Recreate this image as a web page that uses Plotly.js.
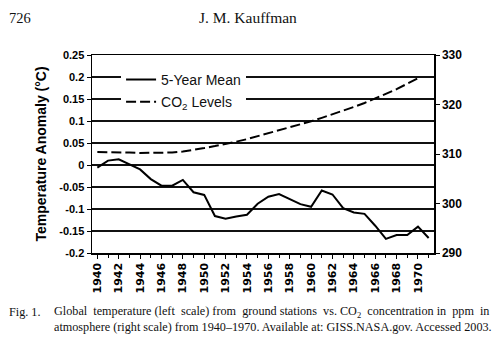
<!DOCTYPE html>
<html>
<head>
<meta charset="utf-8">
<script src="https://cdn.plot.ly/plotly-3.0.1.min.js"></script>
<style>
html,body{margin:0;padding:0;background:#fff;}
#chart{width:500px;height:348px;}
</style>
</head>
<body>
<div id="chart"></div>
<script>
// Temperature anomaly, 5-year mean (left scale, °C)
var tempYears = [1940,1941,1942,1943,1944,1945,1946,1947,1948,1949,1950,1951,1952,1953,1954,1955,
                 1956,1957,1958,1959,1960,1961,1962,1963,1964,1965,1966,1967,1968,1969,1970,1971];
var tempMean = [-0.006,0.010,0.013,0.002,-0.010,-0.032,-0.047,-0.047,-0.034,-0.062,-0.068,-0.116,
                -0.122,-0.117,-0.113,-0.088,-0.072,-0.066,-0.077,-0.089,-0.095,-0.058,-0.067,-0.098,
                -0.108,-0.111,-0.138,-0.168,-0.159,-0.159,-0.140,-0.166];
// CO2 levels (right scale, ppm)
var co2Years = [1940,1941,1942,1943,1944,1945,1946,1947,1948,1949,1950,1951,1952,1953,1954,1955,
                1956,1957,1958,1959,1960,1961,1962,1963,1964,1965,1966,1967,1968,1969,1970];
var co2Levels = [310.4,310.4,310.3,310.3,310.2,310.2,310.2,310.3,310.5,310.8,311.2,311.6,312.0,312.5,
                 313.0,313.6,314.1,314.7,315.3,315.9,316.6,317.3,318.0,318.7,319.5,320.3,321.2,322.1,
                 323.1,324.2,325.3];
// Tick labels
var xTickVals = [1940,1942,1944,1946,1948,1950,1952,1954,1956,1958,1960,1962,1964,1966,1968,1970];
var xTickText = ["1940","1942","1944","1946","1948","1950","1952","1954","1956","1958","1960","1962","1964","1966","1968","1970"];
var yTickVals = [-0.2,-0.15,-0.1,-0.05,0,0.05,0.1,0.15,0.2,0.25];
var yTickText = ["-0.2","-0.15","-0.1","-0.05","0","0.05","0.1","0.15","0.2","0.25"];
var y2TickVals = [290,300,310,320,330];
var y2TickText = ["290","300","310","320","330"];

var traces = [
  {x: tempYears, y: tempMean, type: 'scatter', mode: 'lines', name: '5-Year Mean',
   legendgroup: 'a', line: {color: '#000', width: 2}},
  {x: co2Years, y: co2Levels, type: 'scatter', mode: 'lines', name: 'CO<sub>2</sub> Levels',
   legendgroup: 'b', yaxis: 'y2', line: {color: '#000', width: 2, dash: '10px,4px'}}
];

var sans = 'Liberation Sans, Arial, sans-serif';
var serif = 'Liberation Serif, Times New Roman, serif';
var nb = '\u00a0';

var layout = {
  width: 500, height: 348,
  paper_bgcolor: '#fff', plot_bgcolor: '#fff',
  margin: {l: 92, r: 66, t: 55, b: 95},
  showlegend: true,
  legend: {x: 0.085, y: 0.955, xanchor: 'left', yanchor: 'top', bgcolor: '#fff', borderwidth: 0,
           font: {family: sans, size: 14, color: '#111'}, traceorder: 'grouped', tracegroupgap: 1,
           itemwidth: 30},
  xaxis: {range: [1939.5, 1971.5], tickmode: 'array', tickvals: xTickVals, ticktext: xTickText,
          tickangle: -90, ticks: 'outside', ticklen: 4, tickcolor: '#000', tickwidth: 1,
          minor: {dtick: 1, tick0: 1940, ticks: 'outside', ticklen: 3, tickcolor: '#000', showgrid: false},
          showgrid: false, zeroline: false, showline: true, linecolor: '#000', linewidth: 1.5, mirror: true,
          tickfont: {family: 'DejaVu Sans, sans-serif', size: 11, color: '#000', weight: 'bold'}},
  yaxis: {range: [-0.2, 0.25], tickmode: 'array', tickvals: yTickVals, ticktext: yTickText,
          ticks: 'outside', ticklen: 4, tickcolor: '#000', showgrid: true, gridcolor: '#111', gridwidth: 1.4,
          zeroline: false, showline: true, linecolor: '#000', linewidth: 1.5,
          tickfont: {family: sans, size: 11, color: '#000', weight: 'bold'},
          title: {text: 'Temperature Anomaly (°C)', standoff: 9,
                  font: {family: sans, size: 14, color: '#000', weight: 'bold'}}},
  yaxis2: {range: [290, 330], overlaying: 'y', side: 'right', tickmode: 'array', tickvals: y2TickVals,
           ticktext: y2TickText, ticks: 'outside', ticklen: 4, tickcolor: '#000', showgrid: false,
           zeroline: false, showline: true, linecolor: '#000', linewidth: 1.5,
           tickfont: {family: sans, size: 12, color: '#000', weight: 'bold'}},
  annotations: [
    {text: '726', xref: 'paper', yref: 'paper', x: -0.2485, y: 1.187, xanchor: 'left', yanchor: 'middle',
     showarrow: false, font: {family: serif, size: 14.5, color: '#111'}},
    {text: 'J. M. Kauffman', xref: 'paper', yref: 'paper', x: 0.4547, y: 1.187, xanchor: 'center', yanchor: 'middle',
     showarrow: false, font: {family: serif, size: 15.5, color: '#111'}},
    {text: 'Fig. 1.', xref: 'paper', yref: 'paper', x: -0.2485, y: -0.296, xanchor: 'left', yanchor: 'middle',
     showarrow: false, font: {family: serif, size: 12.2, color: '#111'}},
    {text: 'Global' + nb + ' temperature (left' + nb + ' scale) from' + nb + ' ground stations' + nb +
           ' vs. CO<sub>2</sub>' + nb + ' concentration in' + nb + ' ppm' + nb + ' in',
     xref: 'paper', yref: 'paper', x: -0.117, y: -0.296, xanchor: 'left', yanchor: 'middle',
     showarrow: false, font: {family: serif, size: 12.2, color: '#111'}},
    {text: 'atmosphere (right scale) from 1940–1970. Available at: GISS.NASA.gov. Accessed 2003.',
     xref: 'paper', yref: 'paper', x: -0.117, y: -0.372, xanchor: 'left', yanchor: 'middle',
     showarrow: false, font: {family: serif, size: 12.2, color: '#111'}}
  ]
};

Plotly.newPlot('chart', traces, layout, {staticPlot: true, displayModeBar: false});
</script>
</body>
</html>
